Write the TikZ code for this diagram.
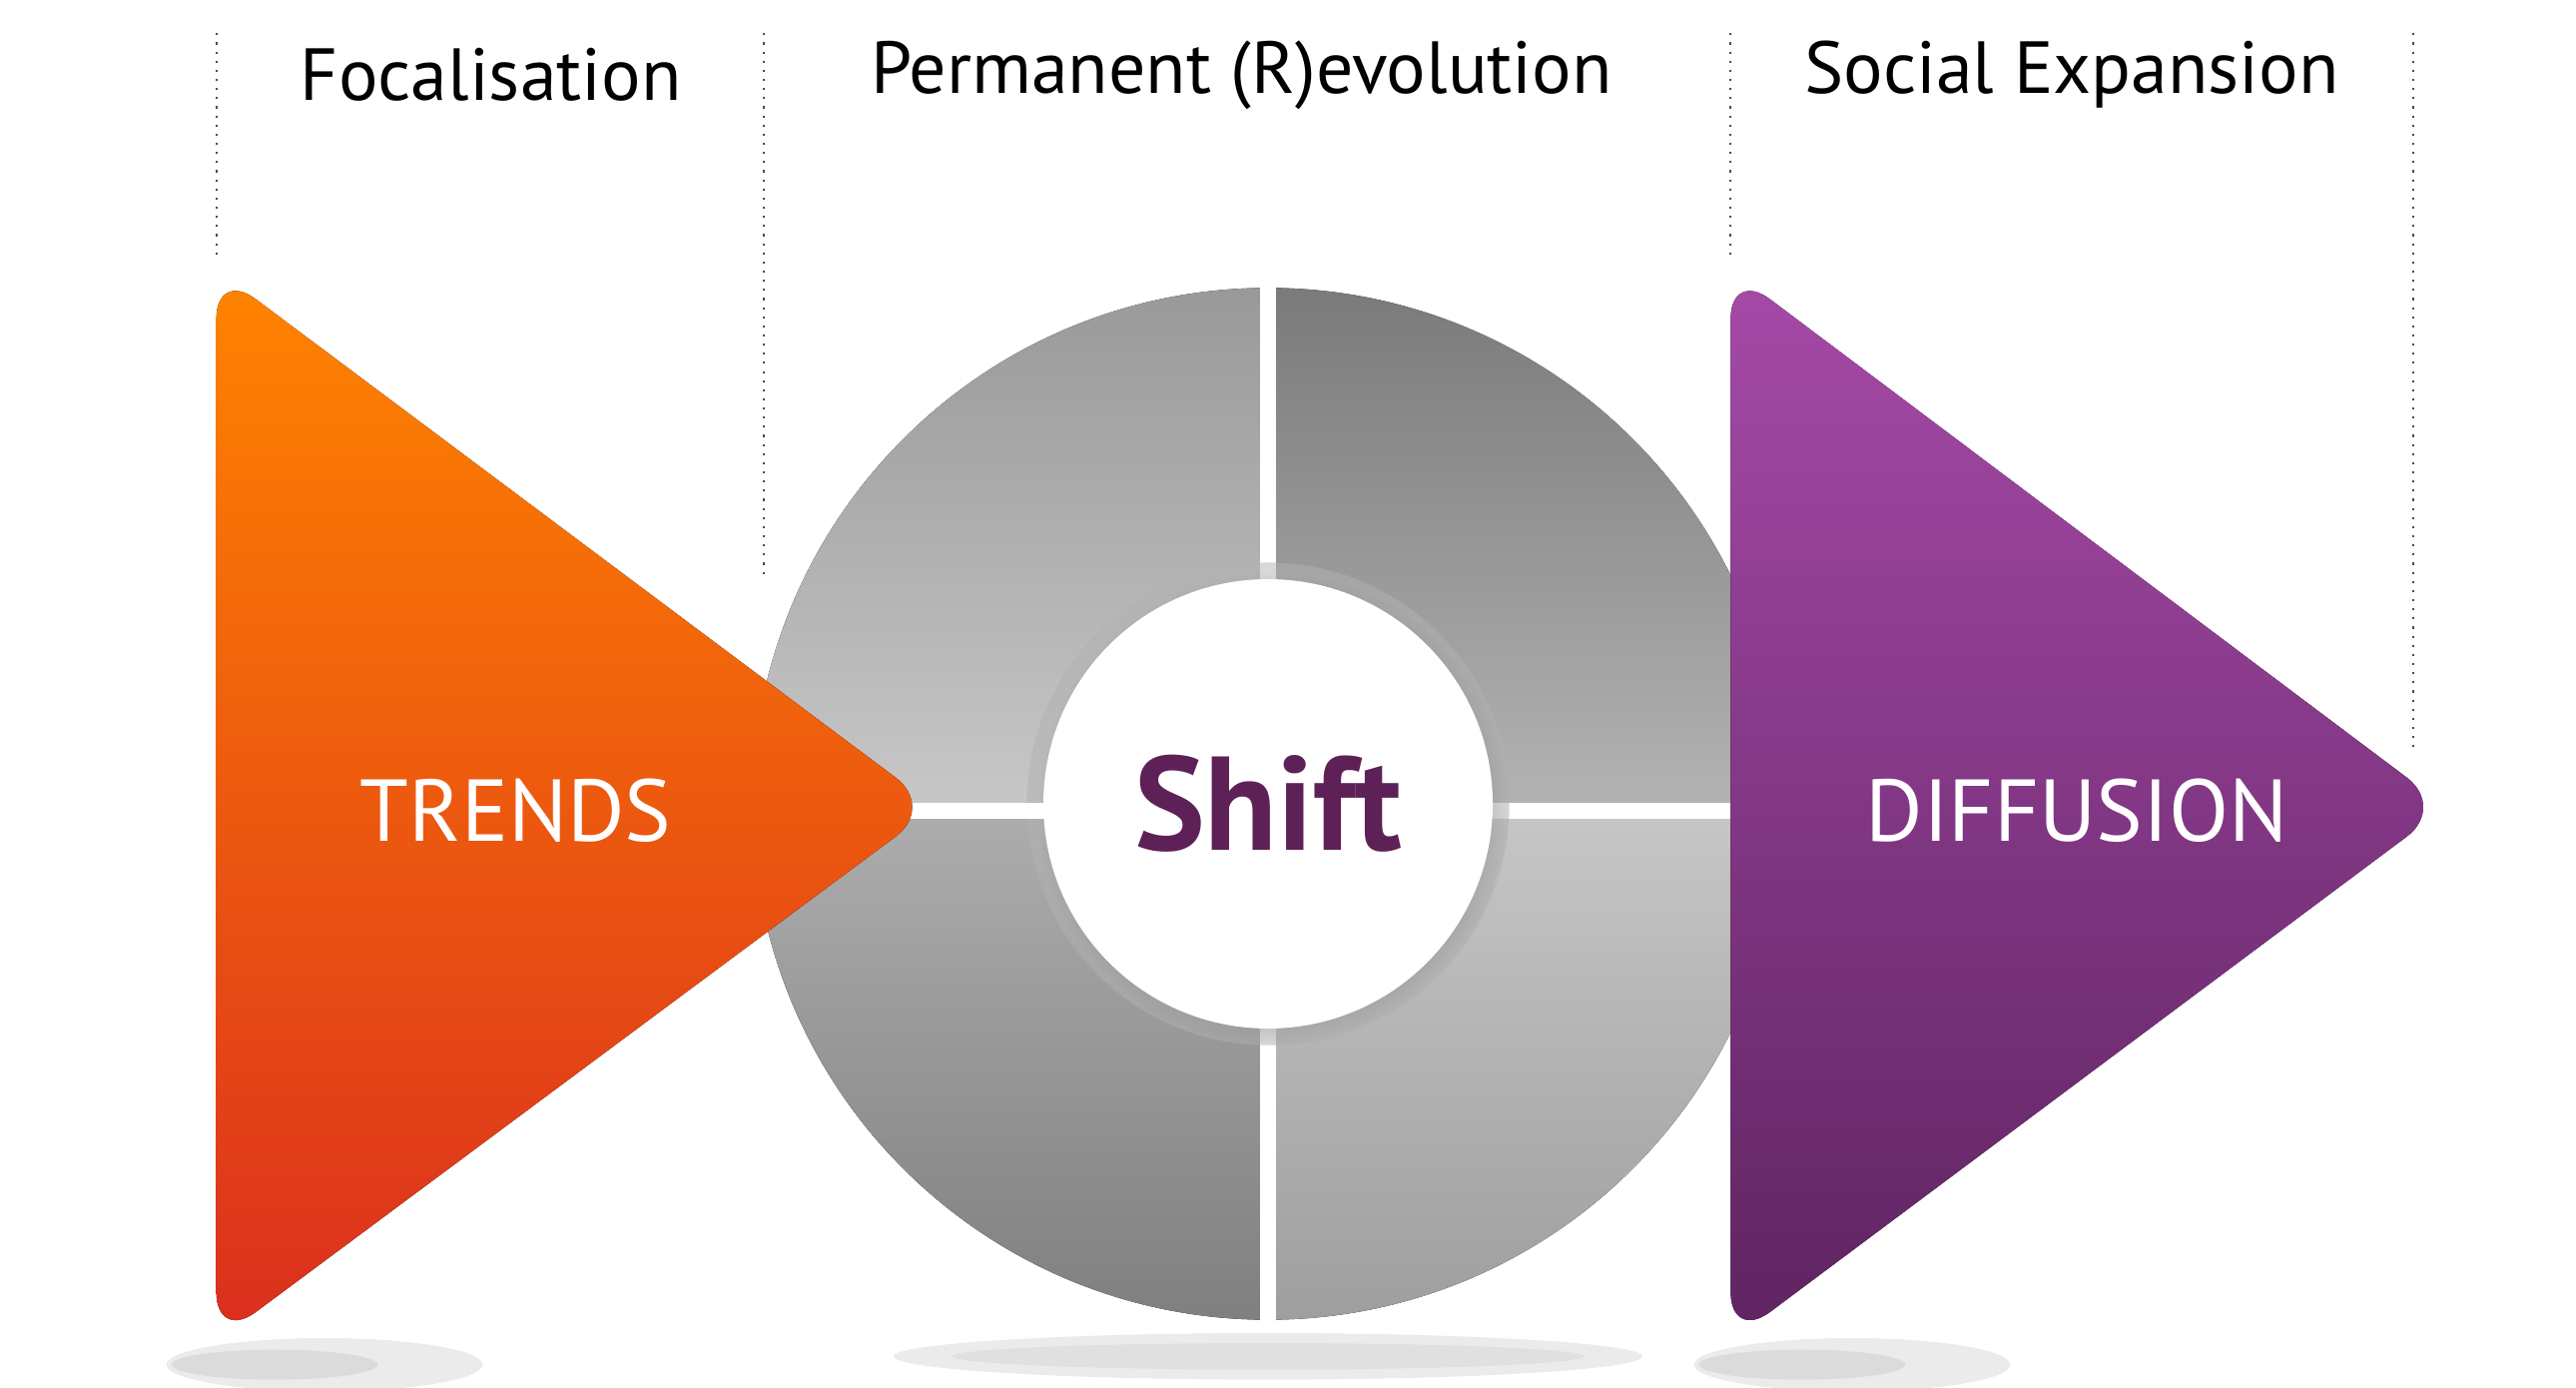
\documentclass[tikz,border=0pt]{standalone}
\usepackage{fontspec}
\setmainfont{PT Sans}
\usetikzlibrary{shadows}
\definecolor{shiftc}{HTML}{5E2157}
\begin{document}
\begin{tikzpicture}[x=0.016667cm,y=0.016667cm,
  head/.style={font=\fontsize{21}{24}\selectfont, text=black},
  big/.style={font=\fontsize{25}{30}\selectfont, text=white},
  dline/.style={dotted, line width=0.6pt, black!70}]
\useasboundingbox (0,0) rectangle (1548,-834);
% shadows
\fill[black!8] (195,-820) ellipse (95 and 16);
\fill[black!14] (165,-820) ellipse (62 and 9);
\fill[black!8] (762,-815) ellipse (225 and 14);
\fill[black!12] (762,-815) ellipse (190 and 8);
\fill[black!8] (1113,-820) ellipse (95 and 16);
\fill[black!14] (1083,-820) ellipse (62 and 9);
% dotted lines
\coordinate (d1a) at (130,-20); \coordinate (d1b) at (130,-155);
\coordinate (d2a) at (459,-20); \coordinate (d2b) at (459,-345);
\coordinate (d3a) at (1040,-20); \coordinate (d3b) at (1040,-155);
\coordinate (d4a) at (1450,-20); \coordinate (d4b) at (1450,-450);
\draw[dline] (d1a)--(d1b); \draw[dline] (d2a)--(d2b);
\draw[dline] (d3a)--(d3b); \draw[dline] (d4a)--(d4b);
\node[head] (h1) at (295,-45) {Focalisation};
\node[head] (h2) at (746,-45) {Permanent (R)evolution};
\node[head] (h3) at (1245,-45) {Social Expansion};
% circle quadrants
\coordinate (c) at (762,-483);
\fill[top color=black!40, bottom color=black!22] (c) -- ++(180:310) arc (180:90:310) -- cycle;
\fill[top color=black!52, bottom color=black!30] (c) -- ++(0:310) arc (0:90:310) -- cycle;
\fill[top color=black!32, bottom color=black!50] (c) -- ++(180:310) arc (180:270:310) -- cycle;
\fill[top color=black!22, bottom color=black!38] (c) -- ++(0:310) arc (0:-90:310) -- cycle;
\draw[white, line width=4.5pt] (762,-168) -- (762,-798);
\draw[white, line width=4.5pt] (450,-487) -- (1075,-487);
\fill[black!30, opacity=0.5] (c) circle (145);
\node[circle, fill=white, minimum size=270*0.016667cm, inner sep=0pt,
  circular drop shadow={shadow scale=1.05, opacity=0.4}] (s) at (c) {};
\node[font=\fontsize{38}{44}\selectfont\bfseries, text=shiftc] (shift) at (c) {Shift};
% triangles
\fill[top color={rgb,255:red,255;green,132;blue,0}, bottom color={rgb,255:red,218;green,46;blue,30}, rounded corners=14]
  (130,-162) -- (562,-485) -- (130,-806) -- cycle;
\fill[top color={rgb,255:red,166;green,74;blue,168}, bottom color={rgb,255:red,94;green,36;blue,96}, rounded corners=14]
  (1040,-162) -- (1470,-485) -- (1040,-806) -- cycle;
\draw[white, line width=4.5pt] (553,-487) -- (630,-487);
\node[big] (t) at (310,-487) {TRENDS};
\node[big] (d) at (1248,-487) {DIFFUSION};
\end{tikzpicture}
\end{document}
